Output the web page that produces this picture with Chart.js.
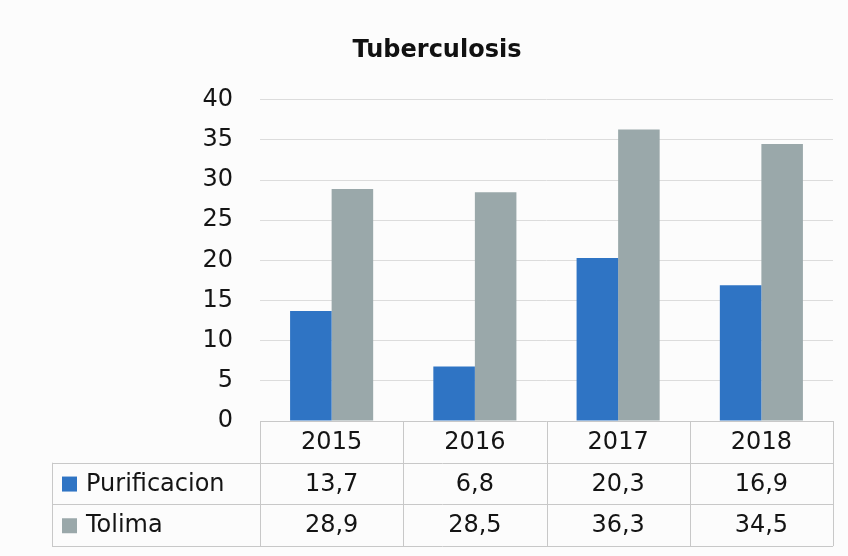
<!DOCTYPE html>
<html>
<head>
<meta charset="utf-8">
<script src="https://cdn.jsdelivr.net/npm/chart.js@4/dist/chart.umd.min.js"></script>
<style>
  html, body { margin: 0; padding: 0; background: #fcfcfc; }
  #wrap { width: 848px; height: 556px; }
</style>
</head>
<body>
<div id="wrap"><canvas id="c" width="848" height="556"></canvas></div>
<script>
const chartTitle = 'Tuberculosis';
const categories = ['2015', '2016', '2017', '2018'];
const seriesNames = ['Purificacion', 'Tolima'];
const purificacion = [13.7, 6.8, 20.3, 16.9];
const tolima = [28.9, 28.5, 36.3, 34.5];
const seriesColors = ['#2f74c4', '#9aa8aa'];
const yTicks = [0, 5, 10, 15, 20, 25, 30, 35, 40];

const FONT = "'DejaVu Sans', sans-serif";
const fmt = v => v.toFixed(1).replace('.', ',');

const dataTablePlugin = {
  id: 'dataTable',
  afterDraw(chart) {
    const ctx = chart.ctx;
    const x = chart.scales.x;
    const area = chart.chartArea;
    const n = categories.length;
    const catW = (area.right - area.left) / n;
    const rowH = 41.7;
    const top = area.bottom;
    const legendLeft = 52;
    const series = [purificacion, tolima];
    ctx.save();
    ctx.strokeStyle = '#c8c8c8';
    ctx.lineWidth = 1;
    ctx.beginPath();
    ctx.moveTo(area.left, Math.round(top) + 0.5);
    ctx.lineTo(area.right, Math.round(top) + 0.5);
    for (let r = 1; r <= 3; r++) {
      const y = Math.round(top + r * rowH) + 0.5;
      ctx.moveTo(legendLeft, y);
      ctx.lineTo(area.right, y);
    }
    ctx.moveTo(legendLeft + 0.5, top + rowH);
    ctx.lineTo(legendLeft + 0.5, top + 3 * rowH);
    for (let i = 0; i <= n; i++) {
      const xx = Math.round(area.left + i * catW) + 0.5;
      ctx.moveTo(xx, top);
      ctx.lineTo(xx, top + 3 * rowH);
    }
    ctx.stroke();

    ctx.fillStyle = '#141414';
    ctx.font = '24px ' + FONT;
    ctx.textAlign = 'center';
    ctx.textBaseline = 'middle';
    categories.forEach((c, i) => {
      const cx = x.getPixelForValue(i);
      ctx.fillText(c, cx, top + rowH / 2 + 1);
      series.forEach((s, k) => {
        ctx.fillText(fmt(s[i]), cx, top + (k + 1) * rowH + rowH / 2 + 1);
      });
    });
    ctx.textAlign = 'left';
    seriesNames.forEach((name, k) => {
      const cy = top + (k + 1) * rowH + rowH / 2;
      ctx.fillStyle = seriesColors[k];
      ctx.fillRect(62, cy - 7, 15, 15);
      ctx.fillStyle = '#141414';
      ctx.fillText(name, 86, cy + 1);
    });
    ctx.restore();
  }
};

new Chart(document.getElementById('c'), {
  type: 'bar',
  data: {
    labels: categories,
    datasets: [
      { label: seriesNames[0], data: purificacion, backgroundColor: seriesColors[0] },
      { label: seriesNames[1], data: tolima, backgroundColor: seriesColors[1] }
    ]
  },
  options: {
    responsive: false,
    animation: false,
    layout: { padding: { left: 41, right: 15, top: 0, bottom: 127 } },
    datasets: { bar: { barPercentage: 1.0, categoryPercentage: 0.58 } },
    plugins: {
      legend: { display: false },
      tooltip: { enabled: false },
      title: {
        display: true,
        text: chartTitle,
        color: '#111',
        font: { family: FONT, size: 24, weight: 'bold' },
        padding: { top: 36, bottom: 35 }
      }
    },
    scales: {
      x: {
        ticks: { display: false },
        grid: { display: false },
        border: { display: false }
      },
      y: {
        min: 0, max: 40,
        afterBuildTicks(scale) { scale.ticks = yTicks.map(v => ({ value: v })); },
        afterFit(scale) { scale.width = 219; },
        ticks: { color: '#141414', font: { family: FONT, size: 24 }, padding: 27 },
        grid: { color: '#dcdcdc', drawTicks: false },
        border: { display: false }
      }
    }
  },
  plugins: [dataTablePlugin]
});
</script>
</body>
</html>
